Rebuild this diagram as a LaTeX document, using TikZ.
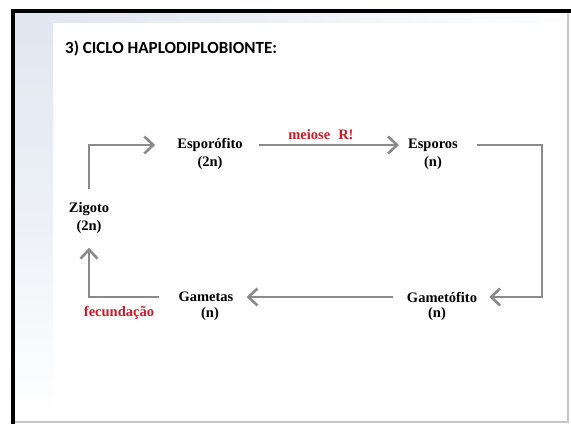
\documentclass[tikz,border=0pt]{standalone}
\usepackage{fontspec}
\setmainfont{Liberation Serif}
\newfontfamily\titlefont{Carlito}
\usepackage{xcolor}
\usetikzlibrary{positioning}
\usetikzlibrary{arrows.meta}
\usetikzlibrary{calc}

\definecolor{cyclegray}{RGB}{138,138,138}
\definecolor{labelred}{RGB}{205,25,35}
\definecolor{slideblue}{RGB}{224,231,241}

\begin{document}
\begin{tikzpicture}[x=1pt,y=1pt,yscale=-1,xscale=1,
  stage/.style={font=\fontsize{14.5}{16}\selectfont\bfseries,inner sep=2pt},
  ploidy/.style={font=\fontsize{14.5}{16}\selectfont\bfseries,inner sep=2pt},
  redlabel/.style={font=\fontsize{14.5}{16}\selectfont\bfseries,text=labelred,inner sep=1pt},
  cyc/.style={draw=cyclegray,line width=2.6pt,-{Straight Barb[length=9pt,width=17pt,line width=2.6pt]}}]
\useasboundingbox (0,0) rectangle (571,424);

%Slide frame
\fill[white] (0,0) rectangle (571,424);
\fill[black] (11,9) rectangle (571,13);
\fill[black] (11,9) rectangle (15,424);
\draw[gray!45,line width=1.2pt] (15,422) -- (568,422) -- (568,13);
\shade[top color=slideblue,bottom color=white,middle color=slideblue!60] (15,13) rectangle (53,415);
\shade[left color=slideblue,right color=white!95!slideblue] (53,13) rectangle (567,22);

% Text Node
\node (title) at (65,48) [anchor=west,inner sep=0pt] {\titlefont\fontsize{17}{19}\selectfont\bfseries 3) CICLO HAPLODIPLOBIONTE:};

% Stage nodes
\node (esporofito) at (210,145) [stage] {Esporófito};
\node (esporofitoN) at (210,163) [ploidy] {(2n)};
\node (esporos) at (433,145) [stage] {Esporos};
\node (esporosN) at (433,163) [ploidy] {(n)};
\node (gametofito) at (442,297) [stage] {Gametófito};
\node (gametofitoN) at (437,314) [ploidy] {(n)};
\node (gametas) at (206,297) [stage] {Gametas};
\node (gametasN) at (210,314) [ploidy] {(n)};
\node (zigoto) at (89,209) [stage] {Zigoto};
\node (zigotoN) at (89,227) [ploidy] {(2n)};

% Red labels
\node (meiose) at (321,135) [redlabel] {meiose\hspace{8pt}R!};
\node (fecundacao) at (119,313) [redlabel] {fecundação};

%Corner of the right-hand arrow
\coordinate (turnR) at (542,145);

%Arrows
\draw[cyc,shorten <=11pt,shorten >=20pt] (zigoto.north) |- (esporofito.west);
\draw[cyc,shorten <=14pt,shorten >=7pt] (esporofito.east) -- (esporos.west);
\draw[cyc,shorten <=17pt,shorten >=10pt] (esporos.east) -- (turnR) |- (gametofito.east);
\draw[cyc,shorten <=12pt,shorten >=11pt] (gametofito.west) -- (gametas.east);
\draw[cyc,shorten <=17pt,shorten >=12pt] (gametas.west) -| (zigotoN.south);

\end{tikzpicture}
\end{document}
